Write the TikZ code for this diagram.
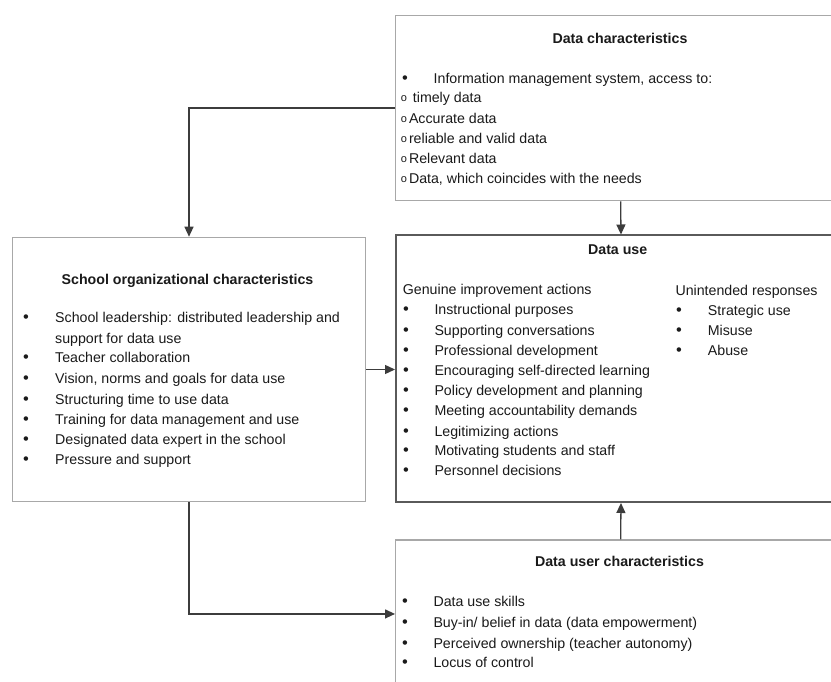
\documentclass[tikz,border=0pt]{standalone}
\usepackage{fontspec}
\setmainfont{Liberation Sans}
\usetikzlibrary{arrows.meta}
\definecolor{txtc}{HTML}{1A1A1A}
\definecolor{lightb}{HTML}{A8A8A8}
\definecolor{darkb}{HTML}{5A5A5A}
\definecolor{arrc}{HTML}{3C3C3C}
\begin{document}
\begin{tikzpicture}[x=1pt,y=-1pt,
  box/.style={draw=lightb, line width=1.3pt, fill=white, anchor=north west, inner sep=0pt},
  t/.style={anchor=base west, inner sep=0pt, text=txtc, font=\fontsize{14.2}{17}\selectfont},
  ttl/.style={anchor=base, inner sep=0pt, text=txtc, font=\fontsize{14.2}{17}\selectfont\bfseries},
  bul/.style={anchor=base, inner sep=0pt, text=txtc, font=\fontsize{16.5}{17}\selectfont},
  obul/.style={anchor=base, inner sep=0pt, text=txtc, font=\fontsize{11}{11}\selectfont},
  conn/.style={draw=arrc, line width=1.3pt, -{Triangle[length=10pt,width=9pt]}}]
\useasboundingbox (0,0) rectangle (831,682);
\clip (0,0) rectangle (831,682);
\fill[white] (0,0) rectangle (831,682);

% boxes
\node[box, minimum width=450pt, minimum height=185pt] (dc) at (395,15) {};
\node[box, draw=darkb, line width=2pt, minimum width=450pt, minimum height=266.5pt] (du) at (395,234.5) {};
\node[box, minimum width=353.3pt, minimum height=264.3pt] (sc) at (11.7,236.7) {};
\node[box, minimum width=450pt, minimum height=148pt] (dus) at (395,539.3) {};

% connectors
\draw[conn] (dc.west) -| (sc.north);
\draw[conn] (dc.south) -- (du.north);
\draw[conn] (sc.east) -- (sc.east -| du.west);
\draw[conn] (sc.south) |- (dus.west);
\draw[conn] (dus.north) -- (du.south);

% Data characteristics
\node[ttl] (dct) at (620,43.5) {Data characteristics};
\node[bul] (dcb0) at (405,83.3) {•};
\node[t] (dci0) at (433.5,83.3) {Information management system, access to:};
\node[obul] (dco1) at (404,101.8) {o};
\node[t] (dci1) at (412.7,102.3) {timely data};
\node[obul] (dco2) at (404,122.8) {o};
\node[t] (dci2) at (408.8,123.3) {Accurate data};
\node[obul] (dco3) at (404,142.8) {o};
\node[t] (dci3) at (408.8,143.3) {reliable and valid data};
\node[obul] (dco4) at (404,162.8) {o};
\node[t] (dci4) at (408.8,163.3) {Relevant data};
\node[obul] (dco5) at (404,182.8) {o};
\node[t] (dci5) at (408.8,183.3) {Data, which coincides with the needs};

% Data use
\node[ttl] (dut) at (617.7,254.5) {Data use};
\node[t] (dug) at (402.7,294.5) {Genuine improvement actions};
\foreach \txt/\yy [count=\i] in {Instructional purposes/314.3, Supporting conversations/335, Professional development/355, Encouraging self-directed learning/375, Policy development and planning/395, Meeting accountability demands/415, Legitimizing actions/436, Motivating students and staff/455.7, Personnel decisions/475.7}{
  \node[bul] (dugb\i) at (406,\yy) {•};
  \node[t] (dugi\i) at (434.3,\yy) {\txt};
}
\node[t] (duu) at (675.3,295.7) {Unintended responses};
\foreach \txt/\yy [count=\i] in {Strategic use/315.7, Misuse/335.3, Abuse/355.3}{
  \node[bul] (duub\i) at (679,\yy) {•};
  \node[t] (duui\i) at (707.7,\yy) {\txt};
}

% School organizational characteristics
\node[ttl] (sct) at (187.5,284.3) {School organizational characteristics};
\node[bul] (scb1) at (26,322.7) {•};
\node[t] (sci1) at (55,322.7) {School leadership: distributed leadership and};
\node[t] (sci1b) at (55,343.3) {support for data use};
\node[bul] (scb2) at (26,362.7) {•};
\node[t] (sci2) at (55,362.7) {Teacher collaboration};
\node[bul] (scb3) at (26,383.3) {•};
\node[t] (sci3) at (55,383.3) {Vision, norms and goals for data use};
\node[bul] (scb4) at (26,404) {•};
\node[t] (sci4) at (55,404) {Structuring time to use data};
\node[bul] (scb5) at (26,424) {•};
\node[t] (sci5) at (55,424) {Training for data management and use};
\node[bul] (scb6) at (26,444) {•};
\node[t] (sci6) at (55,444) {Designated data expert in the school};
\node[bul] (scb7) at (26,464.3) {•};
\node[t] (sci7) at (55,464.3) {Pressure and support};

% Data user characteristics
\node[ttl] (dust) at (619.5,566.7) {Data user characteristics};
\node[bul] (dusb1) at (405,606.7) {•};
\node[t] (dusi1) at (433.3,606.7) {Data use skills};
\node[bul] (dusb2) at (405,627.7) {•};
\node[t] (dusi2) at (433.3,627.7) {Buy-in/ belief in data (data empowerment)};
\node[bul] (dusb3) at (405,648.3) {•};
\node[t] (dusi3) at (433.3,648.3) {Perceived ownership (teacher autonomy)};
\node[bul] (dusb4) at (405,667.7) {•};
\node[t] (dusi4) at (433.3,667.7) {Locus of control};
\end{tikzpicture}
\end{document}
